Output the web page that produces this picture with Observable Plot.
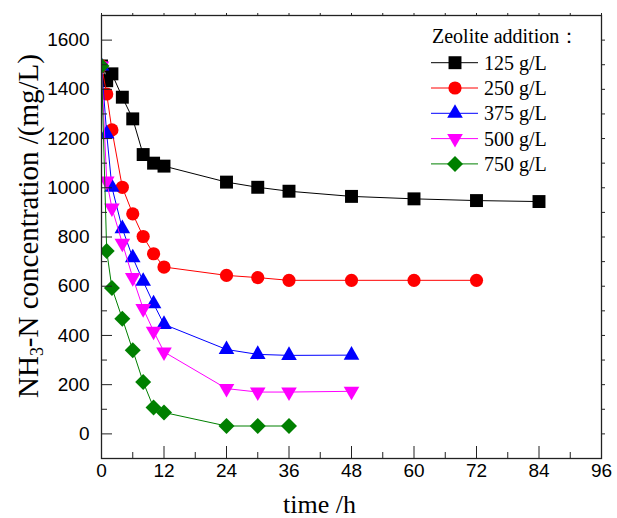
<!DOCTYPE html>
<html><head><meta charset="utf-8">
<script src="https://cdn.jsdelivr.net/npm/d3@7"></script>
<script src="https://cdn.jsdelivr.net/npm/@observablehq/plot@0.6"></script>
<style>body{margin:0;background:#fff}</style>
</head><body><div id="chart"></div>
<script>
const seriesNames = ["125 g/L","250 g/L","375 g/L","500 g/L","750 g/L"];
const seriesColors = ["#000000","#ff0000","#0000ff","#ff00ff","#008000"];
const legendTitle = "Zeolite addition\uFF1A";
const xTitle = "time /h";
const yTitle = "NH3-N concentration /(mg/L)";

const times125 = [0,1,2,4,6,8,10,12,24,30,36,48,60,72,84];
const conc125  = [1495,1435,1463,1368,1280,1135,1100,1088,1023,1002,986,965,955,948,944];
const times250 = [0,1,2,4,6,8,10,12,24,30,36,48,60,72];
const conc250  = [1495,1381,1235,1002,894,802,732,678,644,635,624,624,624,624];
const times375 = [0,1,2,4,6,8,10,12,24,30,36,48];
const conc375  = [1495,1219,1002,834,716,620,529,445,343,323,319,320];
const times500 = [0,1,2,4,6,8,10,12,24,30,36,48];
const conc500  = [1495,1027,918,775,635,509,417,333,184,170,170,173];
const times750 = [0,1,2,4,6,8,10,12,24,30,36];
const conc750  = [1495,743,593,468,340,211,107,87,32,32,32];

const xTicks = [0,12,24,36,48,60,72,84,96];
const xMinor = [6,18,30,42,54,66,78,90];
const yTicks = [0,200,400,600,800,1000,1200,1400,1600];
const yMinor = [100,300,500,700,900,1100,1300,1500];

const triangleDown = {
  draw(ctx, size) {
    const y = -Math.sqrt(size / (Math.sqrt(3) * 3));
    ctx.moveTo(0, -y * 2);
    ctx.lineTo(-Math.sqrt(3) * y, y);
    ctx.lineTo(Math.sqrt(3) * y, y);
    ctx.closePath();
  }
};
const seriesSymbols = ["square","circle","triangle",triangleDown,"diamond2"];
const seriesR = [7.3, 6.6, 5.8, 5.8, 7.2];
const allTimes = [times125,times250,times375,times500,times750];
const allConc = [conc125,conc250,conc375,conc500,conc750];

const tables = allTimes.map((ts, i) => ts.map((t, j) => ({t, c: allConc[i][j]})));

const serif = "'Liberation Serif', 'Times New Roman', serif";
const marks = [];
tables.forEach((tab, i) => {
  marks.push(Plot.line(tab, {x: "t", y: "c", stroke: seriesColors[i], strokeWidth: 1, clip: true}));
  marks.push(Plot.dot(tab, {x: "t", y: "c", fill: seriesColors[i], stroke: "none", symbol: seriesSymbols[i], r: seriesR[i], clip: true}));
});

const axisColor = "#222";
const fmt = d3.format("d");
const chart = Plot.plot({
  width: 617, height: 518,
  marginLeft: 101, marginRight: 16, marginTop: 15, marginBottom: 60,
  x: {domain: [0, 96], label: null},
  y: {domain: [-100, 1700], label: null},
  style: {fontFamily: "'Liberation Sans', Arial, sans-serif", fontSize: "19px", background: "#fff", overflow: "visible"},
  marks: [
    ...marks,
    Plot.frame({stroke: axisColor, strokeWidth: 1.3}),
    Plot.axisX(xTicks, {anchor: "bottom", tickSize: -12, fill: "none", stroke: axisColor, label: null}),
    Plot.axisX(xMinor, {anchor: "bottom", tickSize: -6, fill: "none", stroke: axisColor, label: null}),
    Plot.axisX(xTicks.concat(xMinor), {anchor: "top", tickSize: 3, fill: "none", stroke: axisColor, label: null}),
    Plot.axisX(xTicks, {anchor: "bottom", tickSize: 0, tickPadding: 5, fontSize: 19, fill: "#000", label: null, tickFormat: fmt}),
    Plot.axisY(yTicks, {anchor: "left", tickSize: -11, fill: "none", stroke: axisColor, label: null}),
    Plot.axisY(yMinor, {anchor: "left", tickSize: -6, fill: "none", stroke: axisColor, label: null}),
    Plot.axisY(yTicks.concat(yMinor), {anchor: "right", tickSize: 3, fill: "none", stroke: axisColor, label: null}),
    Plot.axisY(yTicks, {anchor: "left", tickSize: 0, tickPadding: 12, fontSize: 19, fill: "#000", label: null, tickFormat: fmt}),
    Plot.text([xTitle], {frameAnchor: "bottom", dx: -32, dy: 54, lineAnchor: "bottom", fontFamily: serif, fontSize: 26, fill: "#000"}),
    Plot.text([yTitle], {frameAnchor: "left", textAnchor: "middle", lineAnchor: "middle", rotate: -90, dx: -73, dy: -11, fontFamily: serif, fontSize: 29, fill: "#000"})
  ]
});
document.getElementById("chart").appendChild(chart);

// subscript in y title
d3.select(chart).selectAll("text").filter(function(){ return this.textContent === yTitle; }).each(function(){
  const t = d3.select(this);
  t.text(null);
  t.append("tspan").text("NH");
  t.append("tspan").attr("dy", "0.3em").style("font-size", "0.62em").text("3");
  t.append("tspan").attr("dy", "-0.19em").text("-N concentration /(mg/L)");
});

// legend inside plot area
const svg = d3.select(chart);
const lg = svg.append("g")
  .style("font-family", serif).style("font-size", "20px").style("text-anchor", "start").attr("fill", "#000");
lg.append("text").attr("x", 432).attr("y", 43).style("text-anchor", "start").text(legendTitle);
seriesNames.forEach((name, i) => {
  const cy = 62.7 + i * 25.3;
  lg.append("line").attr("x1", 431).attr("x2", 478).attr("y1", cy).attr("y2", cy)
    .attr("stroke", seriesColors[i]).attr("stroke-width", 1);
  const sym = typeof seriesSymbols[i] === "string"
    ? ({square: d3.symbolSquare, circle: d3.symbolCircle, triangle: d3.symbolTriangle, diamond2: d3.symbolDiamond2})[seriesSymbols[i]]
    : seriesSymbols[i];
  lg.append("path").attr("d", d3.symbol(sym, Math.PI * seriesR[i] * seriesR[i])())
    .attr("transform", `translate(455,${cy})`).attr("fill", seriesColors[i]);
  lg.append("text").attr("x", 484).attr("y", cy + 7).style("text-anchor", "start").text(name);
});
</script>
</body></html>
